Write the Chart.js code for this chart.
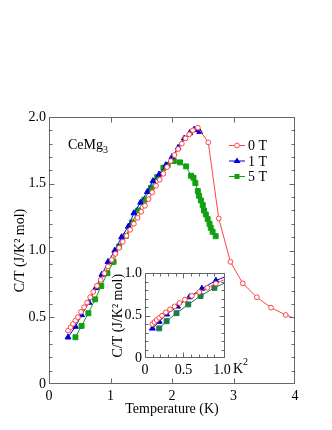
<!DOCTYPE html>
<html><head><meta charset="utf-8">
<script src="https://cdn.jsdelivr.net/npm/chart.js@4.4.1/dist/chart.umd.min.js"></script>
<style>
html,body{margin:0;padding:0;background:#fff}
#wrap{position:relative;width:332px;height:430px}
#main{position:absolute;left:0;top:0}
#inset{position:absolute;left:100px;top:262px}
</style></head><body>
<div id="wrap">
  <canvas id="main" width="332" height="430"></canvas>
  <canvas id="inset" width="160" height="120"></canvas>
</div>
<script>
/* CeMg3 specific heat C/T vs T, 0/1/5 T, with C/T vs T^2 inset */

// 0 T (open circles)
const t0 = [0.31,0.35,0.39,0.43,0.47,0.52,0.57,0.62,0.67,0.72,0.78,0.84,0.90,0.96,1.02,1.08,1.14,1.20,1.26,1.32,
            1.38,1.44,1.50,1.56,1.62,1.68,1.74,1.80,1.86,1.92,1.98,2.04,2.10,2.16,2.22,2.28,2.34,2.42,
            2.59,2.76,2.95,3.15,3.38,3.61,3.85,4.10];
const c0 = [0.40,0.425,0.45,0.475,0.50,0.54,0.575,0.61,0.65,0.69,0.735,0.78,0.83,0.88,0.93,0.975,1.02,1.065,1.11,1.155,
            1.20,1.245,1.29,1.335,1.385,1.435,1.485,1.53,1.575,1.625,1.67,1.715,1.76,1.80,1.84,1.87,1.90,1.92,
            1.81,1.24,0.915,0.754,0.65,0.572,0.517,0.475];
// 1 T (triangles)
const t1 = [0.31,0.43,0.53,0.65,0.76,0.86,0.96,1.07,1.18,1.29,1.38,1.49,1.60,1.69,1.79,1.90,2.00,2.10,2.20,2.29,2.36,2.41,2.45];
const c1 = [0.35,0.43,0.517,0.61,0.72,0.82,0.915,1.00,1.10,1.18,1.28,1.36,1.44,1.52,1.57,1.64,1.70,1.77,1.84,1.88,1.905,1.905,1.89];
// 5 T (squares)
const t5 = [0.43,0.53,0.64,0.75,0.85,0.95,1.05,1.14,1.25,1.35,1.45,1.55,1.66,1.76,1.86,1.93,2.03,2.13,2.23,2.31,2.35,2.38,
            2.42,2.44,2.47,2.50,2.52,2.55,2.58,2.61,2.63,2.66,2.71];
const c5 = [0.35,0.435,0.53,0.634,0.734,0.83,0.915,1.03,1.11,1.21,1.30,1.38,1.47,1.55,1.62,1.64,1.67,1.66,1.63,1.56,1.545,1.505,
            1.445,1.41,1.375,1.34,1.30,1.27,1.235,1.20,1.17,1.14,1.107];

const xTicks = [0,1,2,3,4];
const yTicks = [0,0.5,1.0,1.5,2.0];
const insetXTicks = [0,0.5,1.0];
const insetYTicks = [0,0.5,1.0];

const RED='#ff4444', BLUE='#0000dd', GREEN='#12a012', IGREEN='#1f7a4a', AXIS='#666';
const FONT = {family:"'Liberation Serif', 'DejaVu Serif', serif", size:14};
Chart.defaults.font = {...FONT};
Chart.defaults.color = '#000';

const pts = (xs,ys,f) => xs.map((x,i)=>({x:f?f(x):x, y:ys[i]}));
const lab = v => v===0 ? '0' : v.toFixed(1);
const fix = list => s => { s.ticks = list.map(v=>({value:v})); };

// inward ticks + frame on all four sides
const frame = {
  id:'frame',
  afterDatasetsDraw(chart, args, o){
    const {ctx, chartArea:a, scales:{x,y}} = chart;
    const L=Math.round(a.left)+.5, R=Math.round(a.right)-.5, T=Math.round(a.top)+.5, B=Math.round(a.bottom)-.5;
    ctx.save();
    ctx.strokeStyle=AXIS; ctx.lineWidth=1;
    ctx.strokeRect(L,T,R-L,B-T);
    ctx.beginPath();
    const vx=(v,len)=>{const p=Math.round(x.getPixelForValue(v))+.5; ctx.moveTo(p,B);ctx.lineTo(p,B-len);ctx.moveTo(p,T);ctx.lineTo(p,T+len);};
    const vy=(v,len)=>{const p=Math.round(y.getPixelForValue(v))+.5; ctx.moveTo(L,p);ctx.lineTo(L+len,p);ctx.moveTo(R,p);ctx.lineTo(R-len,p);};
    o.xMajor.forEach(v=>vx(v,o.major)); o.xMinor.forEach(v=>vx(v,o.minor));
    o.yMajor.forEach(v=>vy(v,o.major)); o.yMinor.forEach(v=>vy(v,o.minor));
    ctx.stroke();
    ctx.restore();
  }
};

const tenths = [0.1,0.2,0.3,0.4,0.6,0.7,0.8,0.9];
const mainMinorY = [0.1,0.2,0.3,0.4,0.6,0.7,0.8,0.9,1.1,1.2,1.3,1.4,1.6,1.7,1.8,1.9];

// legend and compound label drawn by hand
const notes = {
  id:'notes',
  afterDraw(chart){
    const ctx = chart.ctx;
    ctx.save();
    ctx.font = "14px 'Liberation Serif'";
    ctx.fillStyle='#000'; ctx.textBaseline='alphabetic';
    ctx.fillText('CeMg', 68, 149);
    const w = ctx.measureText('CeMg').width;
    ctx.font = "10px 'Liberation Serif'";
    ctx.fillText('3', 68+w, 153);
    const rows = [['0 T',RED,'o'],['1 T',BLUE,'t'],['5 T',GREEN,'s']];
    rows.forEach((r,i)=>{
      const yy = 145 + i*15.5;
      ctx.strokeStyle=r[1]; ctx.lineWidth=1;
      ctx.beginPath(); ctx.moveTo(229,yy+.5); ctx.lineTo(245,yy+.5); ctx.stroke();
      ctx.fillStyle=r[1];
      ctx.beginPath();
      if(r[2]==='o'){ ctx.arc(237,yy+.5,2.4,0,Math.PI*2); ctx.fillStyle='#fff'; ctx.fill(); ctx.stroke(); }
      else if(r[2]==='t'){ ctx.moveTo(237,yy-3); ctx.lineTo(240.5,yy+2.5); ctx.lineTo(233.5,yy+2.5); ctx.closePath(); ctx.fill(); }
      else { ctx.fillRect(234.5,yy-2,5,5); }
      ctx.fillStyle='#000'; ctx.font = "14px 'Liberation Serif'";
      ctx.fillText(r[0], 248, yy+5);
    });
    ctx.restore();
  }
};

const ds = (label, data, color, style, r, fill) => ({
  label, data, showLine:true, tension:0, borderColor:color, borderWidth:1,
  pointStyle:style, pointRadius:c=>c.raw && c.raw.x>4 ? 0 : r, pointBorderWidth:1,
  pointBackgroundColor:fill, pointBorderColor:color
});

new Chart(document.getElementById('main'), {
  type:'scatter',
  data:{datasets:[
    ds('0 T', pts(t0,c0), RED, 'circle', 2.4, '#fff'),
    ds('1 T', pts(t1,c1), BLUE, 'triangle', 3.4, BLUE),
    ds('5 T', pts(t5,c5), GREEN, 'rect', 3.5, GREEN)
  ]},
  options:{
    responsive:false, animation:false, events:[],
    layout:{padding:{left:0,top:117,right:37,bottom:0}},
    plugins:{legend:{display:false}, tooltip:{enabled:false},
      frame:{xMajor:[1,2,3], xMinor:[], yMajor:[0.5,1,1.5], yMinor:mainMinorY, major:5, minor:3}},
    scales:{
      x:{type:'linear', min:0, max:4, afterBuildTicks:fix(xTicks),
         afterFit:s=>{s.height=46;},
         grid:{display:false, drawTicks:false}, border:{display:false},
         ticks:{padding:4, autoSkip:false, callback:v=>String(v), font:FONT, color:'#000', maxRotation:0},
         title:{display:true, text:'Temperature (K)', font:FONT, color:'#000', padding:{top:0,bottom:12}}},
      y:{type:'linear', min:0, max:2, afterBuildTicks:fix(yTicks),
         afterFit:s=>{s.width=49;},
         grid:{display:false, drawTicks:false}, border:{display:false},
         ticks:{padding:3, autoSkip:false, callback:lab, font:FONT, color:'#000'},
         title:{display:true, text:'C/T (J/K² mol)', font:FONT, color:'#000', padding:{top:12,bottom:0}}}
    }
  },
  plugins:[frame, notes]
});

// inset: same data against T^2
const sq = v => v*v;
const inotes = {
  id:'inotes',
  afterDraw(chart){
    const ctx = chart.ctx;
    ctx.save();
    ctx.fillStyle='#000';
    ctx.font = "14px 'Liberation Serif'";
    ctx.fillText('K', 133, 111);
    ctx.font = "10px 'Liberation Serif'";
    ctx.fillText('2', 143, 103);
    ctx.restore();
  }
};
const ids = (label, data, color, style, r, fill) => ({
  label, data, showLine:true, tension:0, borderColor:color, borderWidth:1,
  pointStyle:style, pointRadius:c=>c.raw && c.raw.x>1.03 ? 0 : r, pointBorderWidth:1,
  pointBackgroundColor:fill, pointBorderColor:color
});
new Chart(document.getElementById('inset'), {
  type:'scatter',
  data:{datasets:[
    ids('0 T', pts(t0.slice(0,17),c0.slice(0,17),sq), RED, 'circle', 2.4, '#fff'),
    ids('1 T', pts(t1.slice(0,9),c1.slice(0,9),sq), BLUE, 'triangle', 3.4, BLUE),
    ids('5 T', pts(t5.slice(0,8),c5.slice(0,8),sq), IGREEN, 'rect', 3.5, IGREEN)
  ]},
  options:{
    responsive:false, animation:false, events:[],
    layout:{padding:{left:0,top:11,right:35,bottom:0}},
    plugins:{legend:{display:false}, tooltip:{enabled:false},
      frame:{xMajor:[0.5], xMinor:tenths, yMajor:[0.5], yMinor:tenths, major:5, minor:3}},
    scales:{
      x:{type:'linear', min:0, max:1.04, afterBuildTicks:fix(insetXTicks),
         afterFit:s=>{s.height=24;},
         grid:{display:false, drawTicks:false}, border:{display:false},
         ticks:{padding:4, autoSkip:false, callback:lab, font:FONT, color:'#000', maxRotation:0}},
      y:{type:'linear', min:0, max:1, afterBuildTicks:fix(insetYTicks),
         afterFit:s=>{s.width=45;},
         grid:{display:false, drawTicks:false}, border:{display:false},
         ticks:{padding:3, autoSkip:false, callback:lab, font:FONT, color:'#000'},
         title:{display:true, text:'C/T (J/K² mol)', font:FONT, color:'#000', padding:{top:10,bottom:0}}}
    }
  },
  plugins:[frame, inotes]
});
</script>
</body></html>
